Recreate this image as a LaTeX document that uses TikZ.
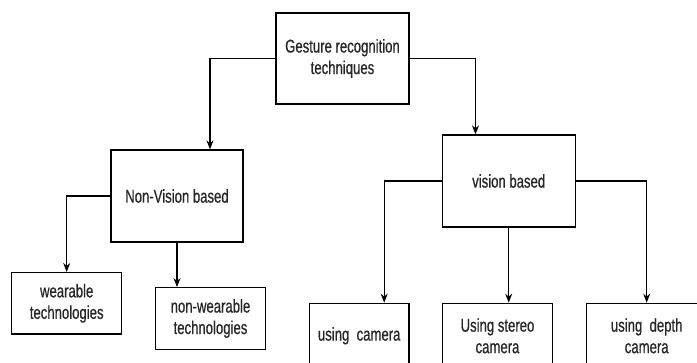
\documentclass[tikz,border=0pt]{standalone}
\usepackage{fontspec}
\setmainfont[FakeStretch=0.71,FakeBold=0.6]{Liberation Sans}
\usetikzlibrary{arrows.meta}
\begin{document}
\begin{tikzpicture}[x=1pt,y=-1pt,
  box/.style={draw=black,line width=1.3pt,rectangle,inner sep=0pt,align=center,
    font=\fontsize{18.5}{21.5}\selectfont,text=black!85},
  arr/.style={line width=1.1pt,-{Stealth[length=9pt,width=7pt]}}]
\useasboundingbox (0,0) rectangle (697,362);
\clip (0,0) rectangle (697,362);
\node[box,minimum width=133pt,minimum height=91pt] (top) at (342.5,58.5) {Gesture recognition\\techniques};
\node[box,minimum width=132pt,minimum height=92pt] (nv) at (177,196) {Non-Vision based};
\node[box,minimum width=133pt,minimum height=92pt] (vis) at (508.7,181) {vision based};
\node[box,minimum width=110pt,minimum height=61.3pt] (wear) at (66.7,303.3) {wearable\\technologies};
\node[box,minimum width=110.4pt,minimum height=61.6pt] (nw) at (210.5,318.5) {non-wearable\\technologies};
\node[box,minimum width=99.7pt,minimum height=65pt] (cam) at (359.2,335.8) {using\ \ camera};
\node[box,minimum width=109.6pt,minimum height=65pt] (st) at (497.5,335.8) {Using stereo\\camera};
\node[box,minimum width=120pt,minimum height=65pt] (dep) at (646.7,335.8) {using\ \ depth\\camera};
\draw[arr] (top.west) -| ([xshift=33pt]nv.north);
\draw[arr] (top.east) -| ([xshift=-33.2pt]vis.north);
\draw[arr] (nv.west) -| (wear.north);
\draw[arr] (nv.south) -- (nv.south |- nw.north);
\draw[arr] (vis.west) -| ([xshift=25pt]cam.north);
\draw[arr] (vis.south) -- (vis.south |- st.north);
\draw[arr] (vis.east) -| (dep.north);
\end{tikzpicture}
\end{document}
